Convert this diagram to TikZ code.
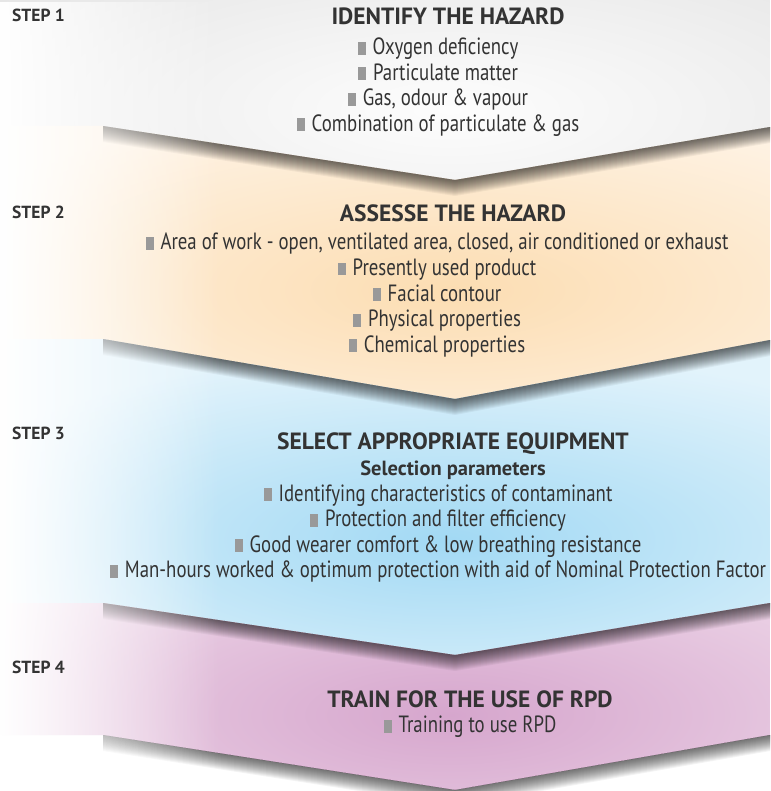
\documentclass[tikz,border=0pt]{standalone}
\usepackage{fontspec}
\setmainfont{PT Sans}[FakeStretch=0.8]
\newfontfamily\headfont{PT Sans}
\usetikzlibrary{positioning, fadings}
\definecolor{inkgray}{HTML}{333333}
\definecolor{bulletgray}{HTML}{999999}
\definecolor{greyout}{HTML}{E6E6E6}
\definecolor{greyin}{HTML}{FDFDFD}
\definecolor{peachout}{HTML}{FEF3E5}
\definecolor{peachin}{HTML}{FCDDB2}
\definecolor{skyout}{HTML}{E2F3FB}
\definecolor{skyin}{HTML}{A2D9F4}
\definecolor{pinkout}{HTML}{EFDAEA}
\definecolor{pinkin}{HTML}{D6A6CD}
\tikzfading[name=fadeleft, left color=transparent!0, right color=transparent!100]
\tikzstyle{steplabel} = [anchor=base west, inner sep=0pt, text=inkgray, font=\headfont\bfseries\fontsize{17.5}{20}\selectfont]
\tikzstyle{heading} = [inner sep=0pt, text height=16pt, text depth=5pt, text=inkgray, font=\headfont\bfseries\fontsize{23.5}{26}\selectfont]
\tikzstyle{subheading} = [heading, font=\headfont\bfseries\fontsize{20.5}{24}\selectfont]
\tikzstyle{item} = [inner sep=0pt, text height=16pt, text depth=5pt, text=inkgray, font=\fontsize{23.5}{26}\selectfont]
\tikzstyle{shadow} = [black, opacity=0.048]
\newcommand{\bul}{{\color{bulletgray}\rule{8pt}{13pt}}\hspace{7pt}}

\begin{document}
\begin{tikzpicture}[x=1pt, y=-1pt, node distance=25.5pt, on grid]
                \useasboundingbox (0,0) rectangle (770,791);
                % Chevron corners
                \coordinate (o) at (0,0);
                \coordinate (l0) at (103,0);   \coordinate (t0) at (455,0);   \coordinate (r0) at (770,0);
                \coordinate (l1) at (103,126); \coordinate (t1) at (455,180); \coordinate (r1) at (770,127);
                \coordinate (l2) at (103,339); \coordinate (t2) at (455,399); \coordinate (r2) at (770,340);
                \coordinate (l3) at (103,603); \coordinate (t3) at (455,655); \coordinate (r3) at (770,603);
                \coordinate (l4) at (103,735); \coordinate (t4) at (455,790); \coordinate (r4) at (770,735);

                % Bands
                \foreach \i/\j/\outer/\inner/\cy in {0/1/greyout/greyin/110, 1/2/peachout/peachin/290, 2/3/skyout/skyin/540, 3/4/pinkout/pinkin/715} {
                    \begin{scope}
                        \clip (l\i -| o) -- (l\i) -- (t\i) -- (r\i) -- (r\j) -- (t\j) -- (l\j) -- (l\j -| o) -- cycle;
                        \fill [\outer] (0,0) rectangle (770,791);
                        \shade [inner color=\inner, outer color=\outer] (450,\cy) ellipse (560 and 190);
                    \end{scope}
                }

                % Shadows under the chevrons
                \foreach \k in {1,...,4}
                    \foreach \d in {1,...,16}
                        \fill [shadow] (l\k) -- (t\k) -- (r\k) -- ([yshift=-\d pt]r\k) -- ([yshift=-\d pt]t\k) -- ([yshift=-\d pt]l\k) -- cycle;
                \fill [white, path fading=fadeleft] (0,0) rectangle (220,791);

                % Steps
                \node (step1) [steplabel] at (12,22) {STEP 1};
                \node (step2) [steplabel] at (12,219) {STEP 2};
                \node (step3) [steplabel] at (12,439) {STEP 3};
                \node (step4) [steplabel] at (12,673) {STEP 4};

                % Step 1
                \node (identify) [heading] at (448,19.5) {IDENTIFY THE HAZARD};
                \node (oxygen) [item, below=30pt of identify, xshift=-10pt] {\bul Oxygen deficiency};
                \node (particulate) [item, below=of oxygen] {\bul Particulate matter};
                \node (gas) [item, below=of particulate] {\bul Gas, odour \& vapour};
                \node (combination) [item, below=of gas] {\bul Combination of particulate \& gas};

                % Step 2
                \node (assess) [heading] at (453,216.5) {ASSESSE THE HAZARD};
                \node (area) [item, below=28pt of assess, xshift=-16pt] {\bul Area of work - open, ventilated area, closed, air conditioned or exhaust};
                \node (presently) [item, below=of area] {\bul Presently used product};
                \node (facial) [item, below=of presently] {\bul Facial contour};
                \node (physical) [item, below=of facial] {\bul Physical properties};
                \node (chemical) [item, below=of physical] {\bul Chemical properties};

                % Step 3
                \node (select) [heading] at (453,443.5) {SELECT APPROPRIATE EQUIPMENT};
                \node (params) [subheading, below=26pt of select] {Selection parameters};
                \node (identifying) [item, below=26pt of params, xshift=-15pt] {\bul Identifying characteristics of contaminant};
                \node (protection) [item, below=of identifying] {\bul Protection and filter efficiency};
                \node (comfort) [item, below=of protection] {\bul Good wearer comfort \& low breathing resistance};
                \node (manhours) [item, below=of comfort] {\bul Man-hours worked \& optimum protection with aid of Nominal Protection Factor};

                % Step 4
                \node (train) [heading] at (470,701.5) {TRAIN FOR THE USE OF RPD};
                \node (training) [item, below=of train] {\bul Training to use RPD};
            \end{tikzpicture}
\end{document}
